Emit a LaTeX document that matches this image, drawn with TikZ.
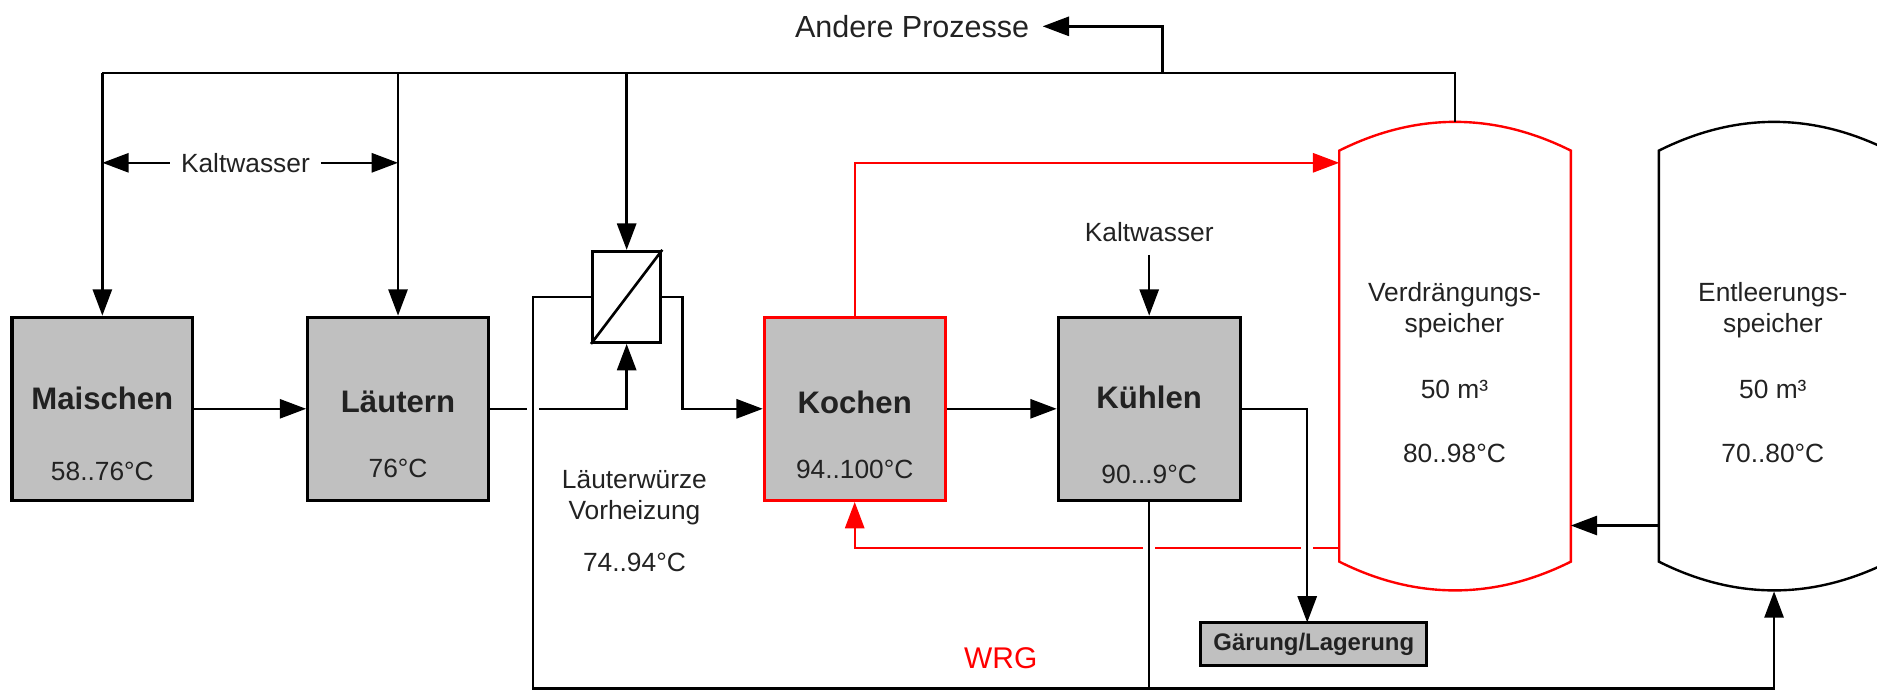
\documentclass[tikz,border=0pt]{standalone}
\usepackage{fontspec}
\setmainfont{Liberation Sans}
\usetikzlibrary{arrows.meta}
\definecolor{boxgray}{HTML}{C0C0C0}
\definecolor{txt}{HTML}{222222}
\begin{document}
\begin{tikzpicture}[x=1pt,y=-1pt,
  line/.style={line width=2pt, draw=black},
  arr/.style={line, -{Triangle[length=22pt,width=16pt]}},
  redline/.style={line width=2pt, draw=red},
  redarr/.style={redline, -{Triangle[length=22pt,width=16pt]}},
  proc/.style={rectangle, draw=black, line width=2.6pt, fill=boxgray, minimum width=151pt, minimum height=153pt, inner sep=0pt},
  title/.style={font=\fontsize{26}{30}\selectfont\bfseries, text=txt, inner sep=0pt},
  val/.style={font=\fontsize{22}{26}\selectfont, text=txt, inner sep=0pt},
  halo/.style={preaction={draw=white, -, line width=10pt, shorten <=14pt, shorten >=26pt}},
  tank/.style={rectangle, minimum width=193pt, minimum height=343pt, inner sep=0pt},
]
\useasboundingbox (0,0) rectangle (1568,576);
\clip (0,0) rectangle (1568,576);

% process boxes
\node[proc] (M) at (85.5,341.5) {};
\node[proc] (L) at (332.5,341.5) {};
\node[proc, draw=red] (K) at (714,341.5) {};
\node[proc, minimum width=152pt] (Kh) at (960,341.5) {};
\node[title] (tM) at (85.5,333) {Maischen};
\node[val] (vM) at (85.5,394) {58..76°C};
\node[title] (tL) at (332.5,336) {Läutern};
\node[val] (vL) at (332.5,391) {76°C};
\node[title] (tK) at (714,336) {Kochen};
\node[val] (vK) at (714,392) {94..100°C};
\node[title] (tKh) at (960,332) {Kühlen};
\node[val] (vKh) at (960,396) {90...9°C};

% heat exchanger
\node[rectangle, draw=black, line width=2.6pt, fill=white, minimum width=57pt, minimum height=76pt, inner sep=0pt] (HX) at (523.5,248) {};
\draw[line width=2.2pt] (HX.south west) -- (HX.north east);
\node[val] (hx1) at (530,401) {Läuterwürze};
\node[val] (hx2) at (530,428) {Vorheizung};
\node[val] (hx3) at (530,470) {74..94°C};

% Gaerung
\node[rectangle, draw=black, line width=2.6pt, fill=boxgray, minimum width=189pt, minimum height=36pt, inner sep=0pt, font=\fontsize{20}{24}\selectfont\bfseries, text=txt] (G) at (1097.5,538) {Gärung/Lagerung};
\coordinate (GX) at (1092,520);

% tanks
\node[tank] (V) at (1215.5,297.5) {};
\node[tank, minimum width=192pt] (E) at (1482,297.5) {};
\draw[redline] (V.north west) -- (V.south west) .. controls +(64,32) and +(-64,32) .. (V.south east) -- (V.north east) .. controls +(-64,-32) and +(64,-32) .. (V.north west) -- cycle;
\draw[line] (E.north west) -- (E.south west) .. controls +(64,32) and +(-64,32) .. (E.south east) -- (E.north east) .. controls +(-64,-32) and +(64,-32) .. (E.north west) -- cycle;
\coordinate (Vtop) at (1215.5,102);
\coordinate (Ebot) at (1482,494);
\node[val] (v1) at (1215,246.5) {Verdrängungs-};
\node[val] (v2) at (1215,272) {speicher};
\node[val] (v3) at (1215,325) {50 m³};
\node[val] (v4) at (1215,378.5) {80..98°C};
\node[val] (e1) at (1481,246.5) {Entleerungs-};
\node[val] (e2) at (1481,272) {speicher};
\node[val] (e3) at (1481,325) {50 m³};
\node[val] (e4) at (1481,378.5) {70..80°C};

% top distribution line
\coordinate (top) at (0,61);
\draw[line] (M.north |- top) -- (Vtop |- top) -- (Vtop);
\draw[arr] (M.north |- top) -- (M.north);
\draw[arr] (L.north |- top) -- (L.north);
\draw[arr] (HX.north |- top) -- (HX.north);
\node[font=\fontsize{25.5}{30}\selectfont, text=txt, inner sep=0pt] (AP) at (762,22) {Andere Prozesse};
\coordinate (APx) at (971,61);
\draw[arr, shorten >=11pt] (APx) |- (AP.east);

% Kaltwasser labels
\node[val, inner xsep=9pt] (KW1) at (205,136) {Kaltwasser};
\draw[arr] (KW1.west) -- (KW1.west -| M.north);
\draw[arr] (KW1.east) -- (KW1.east -| L.north);
\node[val] (KW2) at (960,194) {Kaltwasser};
\coordinate (KW2s) at (960,213);
\draw[arr] (KW2s) -- (Kh.north);

% main flow
\draw[arr] (M.east) -- (L.east -| L.west);
\draw[arr] (L.east) -| (HX.south);
\coordinate (XR) at (570,0);
\draw[arr] (HX.east) -| (XR |- K.west) -- (K.west);
\draw[arr] (K.east) -- (Kh.west);

% red WRG circuit
\coordinate (y136) at (0,136);
\coordinate (y458) at (0,458);
\draw[redarr] (K.north) |- (V.west |- y136);
\draw[redarr] (V.west |- y458) -| (K.south);
\node[font=\fontsize{25}{30}\selectfont, text=red, inner sep=0pt] (WRG) at (836,550) {WRG};

% Entleerung -> Verdraengung
\coordinate (y439) at (0,439);
\draw[arr] (E.west |- y439) -- (V.east |- y439);

% crossing lines (with gaps in the lines below)
\coordinate (BL) at (445,575);
\draw[arr, halo] (HX.west) -| (BL) -- (BL -| Ebot) -- (Ebot);
\draw[line, halo] (Kh.south) -- (Kh.south |- BL);
\draw[arr, halo] (Kh.east) -| (GX);
\end{tikzpicture}
\end{document}
